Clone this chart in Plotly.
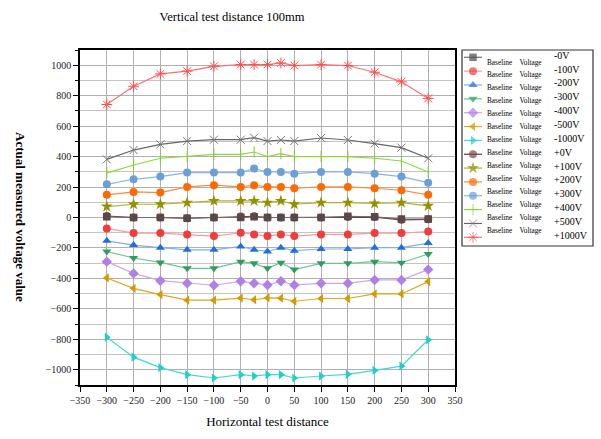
import plotly.graph_objects as go

x_pos = [-300, -250, -200, -150, -100, -50, -25, 0, 25, 50, 100, 150, 200, 250, 300]

neg_0 = [5, 0, 0, -5, 0, 0, 5, 0, 0, 0, 0, 8, 5, -10, -10]
neg_100 = [-72, -102, -102, -111, -122, -100, -111, -122, -111, -122, -111, -111, -102, -102, -92]
neg_200 = [-153, -181, -198, -212, -212, -190, -212, -223, -198, -218, -207, -207, -198, -198, -168]
neg_300 = [-223, -266, -295, -334, -334, -290, -301, -334, -297, -342, -301, -301, -290, -297, -240]
neg_400 = [-290, -367, -415, -432, -445, -419, -432, -443, -419, -443, -432, -432, -410, -410, -342]
neg_500 = [-397, -465, -506, -543, -543, -530, -540, -528, -530, -550, -532, -532, -502, -502, -421]
neg_1000 = [-786, -917, -986, -1032, -1054, -1032, -1041, -1032, -1032, -1054, -1041, -1030, -1004, -976, -803]
pos_0 = [10, 0, 0, -5, 0, 7, 8, 0, 0, 0, 0, 3, 3, -15, -12]
pos_100 = [72, 87, 87, 98, 109, 109, 109, 98, 109, 87, 98, 98, 92, 98, 77]
pos_200 = [149, 168, 164, 201, 212, 201, 212, 201, 201, 192, 201, 201, 192, 179, 149]
pos_300 = [218, 251, 269, 295, 295, 295, 321, 299, 299, 288, 299, 299, 288, 269, 229]
pos_400 = [291, 345, 389, 400, 415, 415, 430, 400, 419, 400, 400, 400, 389, 371, 299]
pos_500 = [382, 443, 480, 502, 511, 511, 524, 502, 509, 502, 522, 509, 485, 459, 389]
pos_1000 = [742, 862, 943, 961, 993, 1004, 1004, 1004, 1015, 998, 1004, 998, 954, 891, 782]

labels = ["-0V", "-100V", "-200V", "-300V", "-400V", "-500V", "-1000V",
          "+0V", "+100V", "+200V", "+300V", "+400V", "+500V", "+1000V"]
series = [neg_0, neg_100, neg_200, neg_300, neg_400, neg_500, neg_1000,
          pos_0, pos_100, pos_200, pos_300, pos_400, pos_500, pos_1000]

styles = [
    ("#5a4848", "#7a6a6a", "square", 7.5),
    ("#f03c3c", "#f79a9a", "circle", 8),
    ("#1f6fe0", "#7fb0f0", "triangle-up", 8),
    ("#2e9e5e", "#6cc494", "triangle-down", 8),
    ("#b07fe8", "#c9a8f0", "diamond", 8),
    ("#d49a00", "#d9a91f", "triangle-left", 8),
    ("#1ecfcf", "#40d8d8", "triangle-right", 8),
    ("#7a4a4a", "#5a3a3a", "circle", 8),
    ("#929200", "#b0b030", "star", 9),
    ("#ff6a00", "#ff8a3a", "circle", 8),
    ("#6a9fd8", "#8ab4e0", "circle", 8),
    ("#7fcf2a", "#8fd63a", "line-ns-open", 8),
    ("#777777", "#666666", "x-thin-open", 8),
    ("#ff4d4d", "#ff7070", "asterisk-open", 9),
]
legend_marker_colors = ["#4a4a4a"] + [s[0] for s in styles[1:]]

serif = "Liberation Serif"
fig = go.Figure()

# main series (drawn in reverse so the -0V squares sit on top of +0V circles)
for name, ys, (mc, lc, sym, sz) in list(zip(labels, series, styles))[::-1]:
    open_sym = sym.endswith("-open")
    fig.add_trace(go.Scatter(
        x=x_pos, y=ys, mode="lines+markers", name=name, showlegend=False,
        line=dict(color=lc, width=1.2),
        marker=dict(symbol=sym, size=sz, color=mc,
                    line=dict(color=mc, width=1 if open_sym else 0)),
    ))

# geometry (pixels)
W, H = 601, 439
L, R, T, B = 80, 8, 50, 54
pw, ph = W - L - R, H - T - B
plot_right = 455
leg_left, leg_right, leg_top, leg_bottom = 462, 593, 50, 246
first_item, last_item = 57.3, 237.3
first_small, last_small = 62.7, 231.0
n = len(labels)

# legend panel drawn in its own small axes (pixel units)
for i, (name, (mc, lc, sym, sz), lmc) in enumerate(zip(labels, styles, legend_marker_colors)):
    open_sym = sym.endswith("-open")
    yi = first_item + i * (last_item - first_item) / (n - 1)
    ys_small = first_small + i * (last_small - first_small) / (n - 1)
    fig.add_trace(go.Scatter(
        x=[leg_left + 2, leg_left + 11, leg_left + 20], y=[yi, yi, yi], xaxis="x2", yaxis="y2",
        mode="lines+markers", showlegend=False, hoverinfo="skip",
        line=dict(color=lc, width=1.2),
        marker=dict(symbol=sym, size=[0, sz, 0], color=lmc,
                    line=dict(color=lmc, width=1 if open_sym else 0)),
    ))
    fig.add_trace(go.Scatter(
        x=[leg_left + 25], y=[ys_small], xaxis="x2", yaxis="y2", mode="text",
        text=["Baseline&nbsp;&nbsp;&nbsp;&nbsp;Voltage"], textposition="middle right",
        textfont=dict(family=serif, size=7.3, color="black"),
        showlegend=False, hoverinfo="skip",
    ))
    fig.add_trace(go.Scatter(
        x=[leg_left + 92], y=[yi - 1], xaxis="x2", yaxis="y2", mode="text",
        text=[name], textposition="middle right",
        textfont=dict(family=serif, size=10, color="black"),
        showlegend=False, hoverinfo="skip",
    ))

axis_common = dict(
    showline=True, linecolor="black", linewidth=1.5, automargin=False,
    showgrid=True, gridcolor="#b0b0b0", gridwidth=1,
    zeroline=False, ticks="outside", ticklen=5, tickcolor="black",
    tickfont=dict(family=serif, size=10, color="#222"),
)

main_xdom = [0, (plot_right - L) / pw]
leg_xdom = [(leg_left - L) / pw, (leg_right - L) / pw]
leg_ydom = [(H - B - leg_bottom) / ph, 1 - (leg_top - T) / ph]

fig.update_layout(
    width=W, height=H,
    margin=dict(l=L, r=R, t=T, b=B, autoexpand=False),
    plot_bgcolor="white", paper_bgcolor="white",
    title=dict(text="Vertical test distance 100mm",
               x=232 / W, xanchor="center", y=1 - 17 / H, yanchor="middle",
               font=dict(family=serif, size=12.5, color="black")),
    xaxis=dict(domain=main_xdom, range=[-350, 350], dtick=50, mirror=True,
               title=dict(text="Horizontal test distance",
                          font=dict(family=serif, size=13, color="black"), standoff=12),
               **axis_common),
    yaxis=dict(domain=[0, 1], range=[-1100, 1100], dtick=200, mirror=True,
               minor=dict(dtick=100, showgrid=True, gridcolor="#c4c4c4",
                          ticks="outside", ticklen=3, tickcolor="black"),
               **axis_common),
    xaxis3=dict(overlaying="x", side="top", anchor="y", range=[-350, 350], dtick=50,
                ticks="inside", ticklen=5, tickcolor="black", showticklabels=False,
                showgrid=False, zeroline=False, showline=False, automargin=False),
    yaxis3=dict(overlaying="y", side="right", anchor="x", range=[-1100, 1100], dtick=200,
                ticks="inside", ticklen=5, tickcolor="black", showticklabels=False,
                minor=dict(dtick=100, ticks="inside", ticklen=3, tickcolor="black"),
                showgrid=False, zeroline=False, showline=False, automargin=False),
    xaxis2=dict(domain=leg_xdom, range=[leg_left, leg_right], anchor="y2",
                visible=False, fixedrange=True, automargin=False),
    yaxis2=dict(domain=leg_ydom, anchor="x2", visible=False, fixedrange=True,
                range=[leg_bottom, leg_top], automargin=False),
    showlegend=False,
)
fig.add_shape(type="rect", xref="x2 domain", yref="y2 domain", x0=0, x1=1, y0=0, y1=1,
              line=dict(color="#333", width=1.2), fillcolor="rgba(0,0,0,0)")
fig.add_annotation(
    text="<b>Actual measured voltage value</b>", textangle=90,
    xref="paper", yref="paper", x=(21 - L) / pw, y=(H - B - 217) / ph,
    xanchor="center", yanchor="middle",
    showarrow=False, font=dict(family=serif, size=13, color="black"),
)
fig.write_html("out.html", config={"displayModeBar": False},
               post_script="document.body.style.margin='0';document.body.style.overflow='hidden';")
